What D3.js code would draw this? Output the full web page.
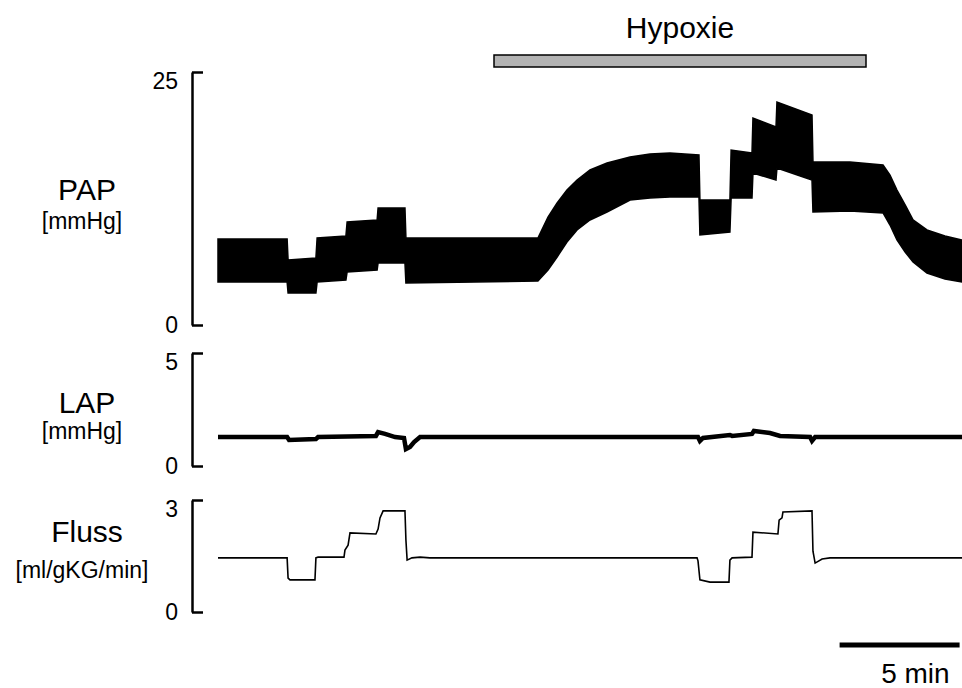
<!DOCTYPE html>
<html>
<head>
<meta charset="utf-8">
<script src="https://cdn.jsdelivr.net/npm/d3@7"></script>
<style>
  body { margin: 0; background: #fff; }
  svg { font-family: "Liberation Sans", Arial, sans-serif; }
</style>
</head>
<body>
<div id="chart"></div>
<script>
// Zeit in Minuten ab Beginn der Aufzeichnung
const hypoxie = [11.5, 27.0]
const skalaMin = 5
const skalaEnde = 30.9

// PAP: obere / untere Huellkurve (mmHg)
const papZeit = [0, 2.88, 2.92, 4.08, 4.13, 5.33, 5.38, 6.63, 6.67, 7.79, 7.83, 13.33, 13.75, 14.13, 14.54, 14.96, 15.5, 16.21, 17.17, 18.0, 18.83, 20.04, 20.08, 21.33, 21.38, 22.25, 22.29, 23.25, 23.29, 24.75, 24.79, 26.33, 27.71, 28.0, 28.29, 28.63, 28.96, 29.54, 30.29, 31.0]
const papMax = [8.5, 8.5, 6.42, 6.62, 8.6, 8.79, 10.18, 10.38, 11.56, 11.56, 8.6, 8.6, 10.67, 12.06, 13.34, 14.33, 15.32, 16.01, 16.6, 16.9, 17.0, 16.8, 12.35, 12.35, 17.29, 17.0, 20.45, 19.57, 22.04, 20.75, 16.11, 16.11, 15.81, 14.82, 13.34, 11.86, 10.38, 9.39, 8.79, 8.4]
const papMin = [4.25, 4.25, 3.16, 3.16, 4.25, 4.45, 5.24, 5.43, 6.13, 6.13, 4.15, 4.35, 5.43, 6.72, 8.2, 9.39, 10.38, 11.17, 12.35, 12.55, 12.65, 12.65, 8.89, 9.19, 12.55, 12.55, 15.02, 14.33, 15.51, 14.33, 11.17, 11.26, 11.07, 9.88, 8.4, 7.21, 6.23, 5.14, 4.55, 4.25]

// LAP (mmHg)
const lapZeit = [0, 2.88, 2.96, 4.08, 4.17, 6.58, 6.67, 6.96, 7.38, 7.75, 7.83, 8.0, 8.17, 8.42, 20.0, 20.08, 20.21, 21.33, 21.42, 22.25, 22.33, 23.0, 23.42, 24.67, 24.75, 24.88, 31.0]
const lapWert = [1.28, 1.28, 1.15, 1.19, 1.28, 1.33, 1.5, 1.42, 1.28, 1.24, 0.75, 0.84, 1.06, 1.28, 1.28, 1.11, 1.24, 1.37, 1.33, 1.42, 1.55, 1.46, 1.33, 1.28, 1.11, 1.28, 1.28]

// Fluss (ml/gKG/min)
const flussZeit = [0, 2.88, 2.92, 3.0, 4.04, 4.08, 4.17, 5.25, 5.29, 5.42, 5.5, 6.58, 6.67, 6.75, 6.88, 7.79, 7.83, 7.88, 8.08, 8.42, 8.83, 19.96, 20.0, 20.08, 20.5, 21.29, 21.33, 21.42, 22.25, 22.29, 23.33, 23.38, 23.5, 23.54, 24.75, 24.79, 24.88, 25.17, 25.5, 31.0]
const flussWert = [1.45, 1.45, 0.91, 0.86, 0.86, 1.45, 1.47, 1.47, 1.66, 1.79, 2.12, 2.09, 2.22, 2.52, 2.71, 2.71, 1.93, 1.39, 1.45, 1.47, 1.45, 1.45, 1.37, 0.86, 0.8, 0.8, 1.39, 1.45, 1.47, 2.14, 2.09, 2.46, 2.52, 2.68, 2.71, 1.63, 1.31, 1.42, 1.45, 1.45]

const panels = [
  { name: "PAP", unit: "[mmHg]", max: 25, top: 72, bottom: 325, nameY: 200, unitY: 229 },
  { name: "LAP", unit: "[mmHg]", max: 5, top: 353, bottom: 466, nameY: 413, unitY: 439 },
  { name: "Fluss", unit: "[ml/gKG/min]", max: 3, top: 500, bottom: 612, nameY: 542, unitY: 578 }
]

const anchoTotal = 962
const altoTotal = 688

const svg = d3.select("#chart").append("svg")
  .attr("width", anchoTotal)
  .attr("height", altoTotal)

const x = d3.scaleLinear().domain([0, 31]).range([218, 962])

const ys = panels.map(p => d3.scaleLinear().domain([0, p.max]).range([p.bottom, p.top]))

// Achsen (Klammern)
panels.forEach((p, i) => {
  const ax = svg.append("g")
    .attr("transform", "translate(192,0)")
    .call(d3.axisLeft(ys[i]).tickValues([0, p.max]).tickFormat(d3.format("d"))
      .tickSize(-11).tickSizeOuter(0).tickPadding(14))
    .attr("font-family", null)
  ax.select(".domain").attr("stroke-width", 2.5)
  ax.selectAll(".tick line").attr("stroke-width", 2.5)
  ax.selectAll(".tick text")
    .attr("font-size", "23px")
    .attr("fill", "#000")
    .attr("dy", d => d === p.max ? "0.72em" : "0.32em")

  svg.append("text")
    .attr("x", 87)
    .attr("y", p.nameY)
    .attr("text-anchor", "middle")
    .attr("font-size", "30px")
    .text(p.name)
  svg.append("text")
    .attr("x", 82)
    .attr("y", p.unitY)
    .attr("text-anchor", "middle")
    .attr("font-size", "23px")
    .text(p.unit)
})

// PAP Band
const papDaten = papZeit.map((t, i) => ({ t: t, hi: papMax[i], lo: papMin[i] }))
const papArea = d3.area()
  .x(d => x(d.t))
  .y0(d => ys[0](d.lo))
  .y1(d => ys[0](d.hi))
svg.append("path")
  .datum(papDaten)
  .attr("d", papArea)
  .attr("fill", "#000")
  .attr("stroke", "#000")
  .attr("stroke-width", 1.5)

// LAP
const lapDaten = lapZeit.map((t, i) => ({ t: t, v: lapWert[i] }))
svg.append("path")
  .datum(lapDaten)
  .attr("d", d3.line().x(d => x(d.t)).y(d => ys[1](d.v)))
  .attr("fill", "none")
  .attr("stroke", "#000")
  .attr("stroke-width", 4.5)

// Fluss
const flussDaten = flussZeit.map((t, i) => ({ t: t, v: flussWert[i] }))
svg.append("path")
  .datum(flussDaten)
  .attr("d", d3.line().x(d => x(d.t)).y(d => ys[2](d.v)))
  .attr("fill", "none")
  .attr("stroke", "#000")
  .attr("stroke-width", 1.6)

// Hypoxie Balken
svg.append("rect")
  .attr("x", x(hypoxie[0]))
  .attr("y", 55)
  .attr("width", x(hypoxie[1]) - x(hypoxie[0]))
  .attr("height", 12)
  .attr("fill", "#b3b3b3")
  .attr("stroke", "#000")
  .attr("stroke-width", 1.5)
svg.append("text")
  .attr("x", (x(hypoxie[0]) + x(hypoxie[1])) / 2)
  .attr("y", 38)
  .attr("text-anchor", "middle")
  .attr("font-size", "30px")
  .text("Hypoxie")

// Zeitskala
svg.append("line")
  .attr("x1", x(skalaEnde - skalaMin))
  .attr("x2", x(skalaEnde))
  .attr("y1", 645)
  .attr("y2", 645)
  .attr("stroke", "#000")
  .attr("stroke-width", 5)
svg.append("text")
  .attr("x", x(skalaEnde) - 10)
  .attr("y", 683)
  .attr("text-anchor", "end")
  .attr("font-size", "28px")
  .text(skalaMin + " min")
</script>
</body>
</html>
